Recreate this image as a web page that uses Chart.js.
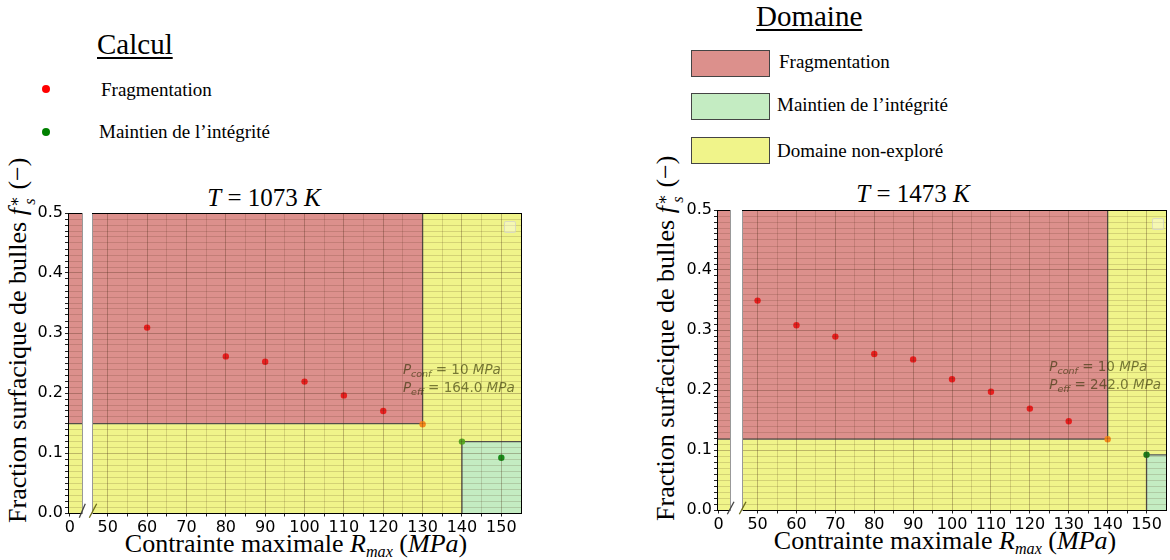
<!DOCTYPE html>
<html>
<head>
<meta charset="utf-8">
<script src="https://cdn.jsdelivr.net/npm/chart.js@4.4.0/dist/chart.umd.min.js"></script>
<style>
  body { margin: 0; width: 1170px; height: 560px; position: relative; background: #fff; overflow: hidden;
         font-family: "Liberation Serif", "DejaVu Serif", serif; color: #000; }
  .box { position: absolute; }
  .txt { position: absolute; line-height: 1; white-space: nowrap; }
  .ul { text-decoration: underline; text-decoration-thickness: 2px; text-underline-offset: 3px; }
  .dot { position: absolute; width: 8px; height: 8px; border-radius: 50%; }
  .swatch { position: absolute; width: 77px; height: 25px; border: 1px solid #444; }
  .ylab { width: 440px; text-align: center; transform: rotate(-90deg); transform-origin: 50% 50%; }
  .ss { display: inline-flex; flex-direction: column; vertical-align: 0.38em; font-size: 0.62em; line-height: 0.95; margin-left: 1px; }
  sub { font-size: 0.62em; line-height: 0; vertical-align: -0.3em; }
  .emptyleg { position: absolute; border: 1px solid rgba(200,200,200,0.6); border-radius: 2px; background: rgba(255,255,255,0.35); }
</style>
</head>
<body>

<!-- Légendes -->
<div class="txt ul" style="left:97px;top:30px;font-size:29px;">Calcul</div>
<div class="dot" style="left:42px;top:85px;background:#ff0000;"></div>
<div class="txt" style="left:101px;top:80px;font-size:19px;">Fragmentation</div>
<div class="dot" style="left:42px;top:128px;background:#008000;"></div>
<div class="txt" style="left:99px;top:122px;font-size:19px;">Maintien de l’intégrité</div>

<div class="txt ul" style="left:756px;top:2px;font-size:29px;">Domaine</div>
<div class="swatch" style="left:691px;top:50px;background:#dc908c;"></div>
<div class="txt" style="left:779px;top:52px;font-size:19px;">Fragmentation</div>
<div class="swatch" style="left:691px;top:93px;background:#c4ecc2;"></div>
<div class="txt" style="left:777px;top:95px;font-size:19px;">Maintien de l’intégrité</div>
<div class="swatch" style="left:691px;top:137px;background:#f0f48a;"></div>
<div class="txt" style="left:777px;top:141px;font-size:19px;">Domaine non-exploré</div>

<!-- Titres et axes -->
<div class="txt" style="left:164px;top:185px;width:200px;text-align:center;font-size:25px;"><i>T</i> = 1073 <i>K</i></div>
<div class="txt" style="left:813px;top:181px;width:200px;text-align:center;font-size:25px;"><i>T</i> = 1473 <i>K</i></div>

<div class="txt" style="left:96px;top:531px;width:400px;text-align:center;font-size:26px;">Contrainte maximale <i>R</i><sub><i>max</i></sub> (<i>MPa</i>)</div>
<div class="txt" style="left:745px;top:528px;width:400px;text-align:center;font-size:26px;">Contrainte maximale <i>R</i><sub><i>max</i></sub> (<i>MPa</i>)</div>

<div class="txt ylab" style="left:-199px;top:324px;font-size:26px;">Fraction surfacique de bulles <i>f</i><span class="ss"><span>∗</span><span><i>s</i></span></span> (−)</div>
<div class="txt ylab" style="left:449px;top:322px;font-size:26px;">Fraction surfacique de bulles <i>f</i><span class="ss"><span>∗</span><span><i>s</i></span></span> (−)</div>

<!-- Graphiques -->
<div class="box" style="left:0px;top:200px;"><canvas id="small1073" width="86" height="345"></canvas></div>
<div class="box" style="left:86px;top:200px;"><canvas id="main1073" width="446" height="345"></canvas></div>
<div class="box" style="left:649px;top:197px;"><canvas id="small1473" width="86" height="345"></canvas></div>
<div class="box" style="left:735px;top:197px;"><canvas id="main1473" width="435" height="345"></canvas></div>

<div class="emptyleg" style="left:504px;top:221px;width:10px;height:10px;"></div>
<div class="emptyleg" style="left:1152px;top:218px;width:10px;height:10px;"></div>

<!-- Coupure de l'axe x -->
<svg class="box" style="left:0;top:0;" width="1170" height="560">
  <line x1="79.3" y1="517.7" x2="85.3" y2="503.7" stroke="#444" stroke-width="1.3"/>
  <line x1="89.3" y1="517.7" x2="96.7" y2="503.7" stroke="#6b6b1a" stroke-width="1.3"/>
  <line x1="727.3" y1="514.3" x2="734" y2="501.7" stroke="#444" stroke-width="1.3"/>
  <line x1="739.3" y1="514.3" x2="746" y2="501.7" stroke="#6b6b1a" stroke-width="1.3"/>
</svg>

<script>
// ---- Données ----
// T = 1073 K
const fragX1073 = [60, 80, 90, 100, 110, 120, 130];
const fragY1073 = [0.309, 0.261, 0.252, 0.219, 0.196, 0.170, 0.148];
const integX1073 = [140, 150];
const integY1073 = [0.119, 0.092];
// T = 1473 K
const fragX1473 = [50, 60, 70, 80, 90, 100, 110, 120, 130, 140];
const fragY1473 = [0.349, 0.308, 0.289, 0.260, 0.251, 0.218, 0.197, 0.169, 0.148, 0.118];
const integX1473 = [150];
const integY1473 = [0.092];

// limites des domaines [1073 K, 1473 K]
const fragLimitX = [130, 140];
const fragLimitY = [0.149, 0.118];
const integLimitX = [140, 150];
const integLimitY = [0.119, 0.092];

const pEff = ['164.0', '242.0'];
const pConf = '10';

// axes
const xMainRange = [46, 155];
const xSmallRange = [-0.45, 3.1];
const yRange = [0, 0.5];
const xTickLabels = [50, 60, 70, 80, 90, 100, 110, 120, 130, 140, 150];
const xSmallTickLabels = [0];
const yTickLabels = [0.0, 0.1, 0.2, 0.3, 0.4, 0.5];
const noteX = 125;
const noteY = [0.237, 0.207];

// ---- Styles ----
const RED_ZONE = '#dc908c';
const GREEN_ZONE = '#c4ecc2';
const YELLOW_ZONE = '#f0f48a';
const fragColors1073 = ['#e81e1e', '#e81e1e', '#e81e1e', '#e81e1e', '#e81e1e', '#e81e1e', '#f58a1c'];
const integColors1073 = ['#5aaa22', '#1a8c1a'];
const fragColors1473 = ['#e81e1e', '#e81e1e', '#e81e1e', '#e81e1e', '#e81e1e', '#e81e1e', '#e81e1e', '#e81e1e', '#e81e1e', '#f58a1c'];
const integColors1473 = ['#1a7a1a'];
const GRID_MAJOR = 'rgba(70,40,20,0.3)';
const GRID_MINOR = 'rgba(70,40,20,0.17)';

// graduations mineures (tous les 5 en x, tous les 0.01 en y)
const xMainTicks = [];
xTickLabels.forEach((v, i) => { xMainTicks.push(v); if (i < xTickLabels.length - 1) xMainTicks.push(v + 5); });
const yTicks = [];
for (let i = 0; i <= 50; i++) yTicks.push(i / 100);

function pts(xs, ys) {
  return xs.map((x, i) => ({ x: x, y: ys[i] }));
}

function buildDatasets(k, fragX, fragY, integX, integY, fragColors, integColors) {
  const top = yRange[1];
  return [
    { label: 'Fragmentation', data: pts(fragX, fragY), showLine: false, pointRadius: 3.2,
      pointBackgroundColor: fragColors, pointBorderWidth: 0, order: 0 },
    { label: 'Maintien de l’intégrité', data: pts(integX, integY), showLine: false, pointRadius: 3.2,
      pointBackgroundColor: integColors, pointBorderWidth: 0, order: 0 },
    // contours des domaines
    { data: [{ x: -10, y: fragLimitY[k] }, { x: fragLimitX[k], y: fragLimitY[k] }, { x: fragLimitX[k], y: top }],
      borderColor: '#555', borderWidth: 1.3, pointRadius: 0, fill: false, order: 1 },
    { data: [{ x: integLimitX[k], y: 0 }, { x: integLimitX[k], y: integLimitY[k] }, { x: 200, y: integLimitY[k] }],
      borderColor: '#555', borderWidth: 1.3, pointRadius: 0, fill: false, order: 1 },
    // domaines
    { data: [{ x: -10, y: top }, { x: fragLimitX[k], y: top }], fill: { value: fragLimitY[k] },
      backgroundColor: RED_ZONE, borderWidth: 0, pointRadius: 0, order: 2 },
    { data: [{ x: integLimitX[k], y: integLimitY[k] }, { x: 200, y: integLimitY[k] }], fill: { value: 0 },
      backgroundColor: GREEN_ZONE, borderWidth: 0, pointRadius: 0, order: 2 },
    { data: [{ x: -10, y: top }, { x: 200, y: top }], fill: { value: 0 },
      backgroundColor: YELLOW_ZONE, borderWidth: 0, pointRadius: 0, order: 3 }
  ];
}

const tickFont = { family: 'DejaVu Sans', size: 16 };

function makeOptions(small, pad) {
  const xt = small ? xSmallTickLabels : xMainTicks;
  return {
    responsive: false,
    animation: false,
    events: [],
    layout: { padding: pad },
    plugins: { legend: { display: false }, tooltip: { enabled: false } },
    scales: {
      x: {
        type: 'linear', position: 'bottom',
        min: small ? xSmallRange[0] : xMainRange[0],
        max: small ? xSmallRange[1] : xMainRange[1],
        afterBuildTicks: s => { s.ticks = xt.map(v => ({ value: v })); },
        afterFit: s => { s.height = 32; },
        grid: {
          z: 1,
          color: c => small ? 'rgba(0,0,0,0)' : (c.tick && c.tick.value % 10 === 0 ? GRID_MAJOR : GRID_MINOR),
          tickColor: '#222', tickLength: 3.5, lineWidth: 1
        },
        border: { color: '#000', width: 1, z: 2 },
        ticks: {
          z: 2, autoSkip: false, maxRotation: 0, minRotation: 0, padding: 2, color: '#000', font: tickFont,
          callback: v => (small ? (xSmallTickLabels.includes(v) ? String(v) : '') : (xTickLabels.includes(v) ? String(v) : ''))
        }
      },
      y: {
        type: 'linear', position: 'left', min: yRange[0], max: yRange[1],
        afterBuildTicks: s => { s.ticks = yTicks.map(v => ({ value: v })); },
        afterFit: s => { s.width = small ? 68 : 0; },
        grid: {
          z: 1,
          color: c => (c.index % 10 === 0 ? GRID_MAJOR : GRID_MINOR),
          tickColor: '#222', tickLength: 3, drawTicks: small, lineWidth: 1
        },
        border: { color: small ? '#000' : '#999', width: 1, z: 2 },
        ticks: {
          z: 2, display: small, autoSkip: false, padding: 2, color: '#000', font: tickFont,
          callback: (v, i) => (i % 10 === 0 ? yTickLabels[i / 10].toFixed(1) : '')
        }
      },
      x2: {
        type: 'linear', position: 'top',
        afterFit: s => { s.height = 0; },
        grid: { display: false }, ticks: { display: false },
        border: { color: '#000', width: 1, z: 2 }
      },
      y2: {
        type: 'linear', position: 'right',
        afterFit: s => { s.width = 0; },
        grid: { display: false }, ticks: { display: false },
        border: { color: small ? '#999' : '#000', width: 1, z: 2 }
      }
    }
  };
}

// texte P_conf / P_eff placé dans le repère des données
function notePlugin(k) {
  return {
    id: 'pressureNote' + k,
    afterDraw(chart) {
      const { ctx, scales } = chart;
      const lines = [
        [['P', 'i'], ['conf', 'si'], [' = ' + pConf + ' ', 'n'], ['MPa', 'i']],
        [['P', 'i'], ['eff', 'si'], [' = ' + pEff[k] + ' ', 'n'], ['MPa', 'i']]
      ];
      ctx.save();
      ctx.fillStyle = 'rgba(45,45,0,0.62)';
      ctx.textBaseline = 'middle';
      lines.forEach((parts, li) => {
        let x = scales.x.getPixelForValue(noteX);
        const y = scales.y.getPixelForValue(noteY[li]);
        parts.forEach(([t, f]) => {
          const sub = f === 'si';
          ctx.font = (f === 'n' ? '' : 'italic ') + (sub ? '9.5px' : '13.5px') + ' "DejaVu Sans"';
          ctx.fillText(t, x, sub ? y + 3.5 : y);
          x += ctx.measureText(t).width;
        });
      });
      ctx.restore();
    }
  };
}

function makePanel(k, ids, pads, data) {
  new Chart(document.getElementById(ids[0]), {
    type: 'line',
    data: { datasets: buildDatasets(k, ...data) },
    options: makeOptions(true, pads[0])
  });
  new Chart(document.getElementById(ids[1]), {
    type: 'line',
    data: { datasets: buildDatasets(k, ...data) },
    options: makeOptions(false, pads[1]),
    plugins: [notePlugin(k)]
  });
}

makePanel(0, ['small1073', 'main1073'],
  [{ top: 13, right: 4, left: 0, bottom: 0 }, { top: 13, right: 11, left: 6, bottom: 0 }],
  [fragX1073, fragY1073, integX1073, integY1073, fragColors1073, integColors1073]);

makePanel(1, ['small1473', 'main1473'],
  [{ top: 13, right: 5, left: 0, bottom: 0 }, { top: 13, right: 1, left: 7, bottom: 0 }],
  [fragX1473, fragY1473, integX1473, integY1473, fragColors1473, integColors1473]);
</script>
</body>
</html>
